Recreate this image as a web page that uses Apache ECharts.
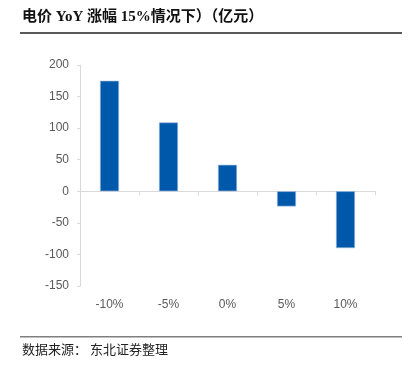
<!DOCTYPE html>
<html>
<head>
<meta charset="utf-8">
<script src="https://cdn.jsdelivr.net/npm/echarts@6/dist/echarts.min.js"></script>
<style>
html,body{margin:0;padding:0;background:#fff;}
#chart{width:412px;height:368px;}
</style>
</head>
<body>
<div id="chart"></div>
<script>
var categories = ['-10%', '-5%', '0%', '5%', '10%'];
var values = [175, 109, 42, -24, -90];
var titleText = '电价 YoY 涨幅 15%情况下）（亿元）';
var sourceText = '数据来源： 东北证券整理';

var chart = echarts.init(document.getElementById('chart'));

var option = {
    animation: false,
    backgroundColor: '#fff',
    grid: {
        left: 80,
        right: 37,
        top: 65,
        bottom: 82,
        containLabel: false,
        outerBoundsMode: 'none'
    },
    xAxis: [
        {
            // zero line with ticks
            type: 'category',
            data: categories,
            axisLine: {onZero: true, lineStyle: {color: '#d9d9d9', width: 1}},
            axisTick: {show: true, length: 4, lineStyle: {color: '#d9d9d9'}},
            axisLabel: {show: false},
            splitLine: {show: false}
        },
        {
            // labels at the bottom
            type: 'category',
            data: categories,
            position: 'bottom',
            axisLine: {show: false, onZero: false},
            axisTick: {show: false},
            axisLabel: {
                color: '#595959',
                fontFamily: 'Liberation Sans',
                fontSize: 12,
                margin: 13
            },
            splitLine: {show: false}
        }
    ],
    yAxis: {
        type: 'value',
        min: -150,
        max: 200,
        interval: 50,
        axisLine: {show: true, lineStyle: {color: '#d9d9d9'}},
        axisTick: {show: true, length: 3, lineStyle: {color: '#d9d9d9'}},
        axisLabel: {
            color: '#595959',
            fontFamily: 'Liberation Sans',
            fontSize: 12,
            margin: 11
        },
        splitLine: {show: false}
    },
    series: [{
        type: 'bar',
        data: values,
        xAxisIndex: 0,
        barWidth: 19,
        itemStyle: {
            color: '#0058aa',
            borderColor: '#9fbde0',
            borderWidth: 0.6
        }
    }],
    graphic: [
        {
            type: 'text',
            left: 22,
            top: 10,
            style: {
                text: titleText,
                font: 'bold 15px "Liberation Serif", "Noto Sans CJK SC"',
                fill: '#111'
            }
        },
        {
            type: 'rect',
            shape: {x: 20, y: 32, width: 382, height: 2},
            style: {fill: '#595959'}
        },
        {
            type: 'rect',
            shape: {x: 20, y: 336, width: 382, height: 1.5},
            style: {fill: '#7f7f7f'}
        },
        {
            type: 'text',
            left: 22,
            top: 343,
            style: {
                text: sourceText,
                font: '13px "Noto Sans CJK SC"',
                fill: '#222'
            }
        }
    ]
};

chart.setOption(option);
</script>
</body>
</html>
